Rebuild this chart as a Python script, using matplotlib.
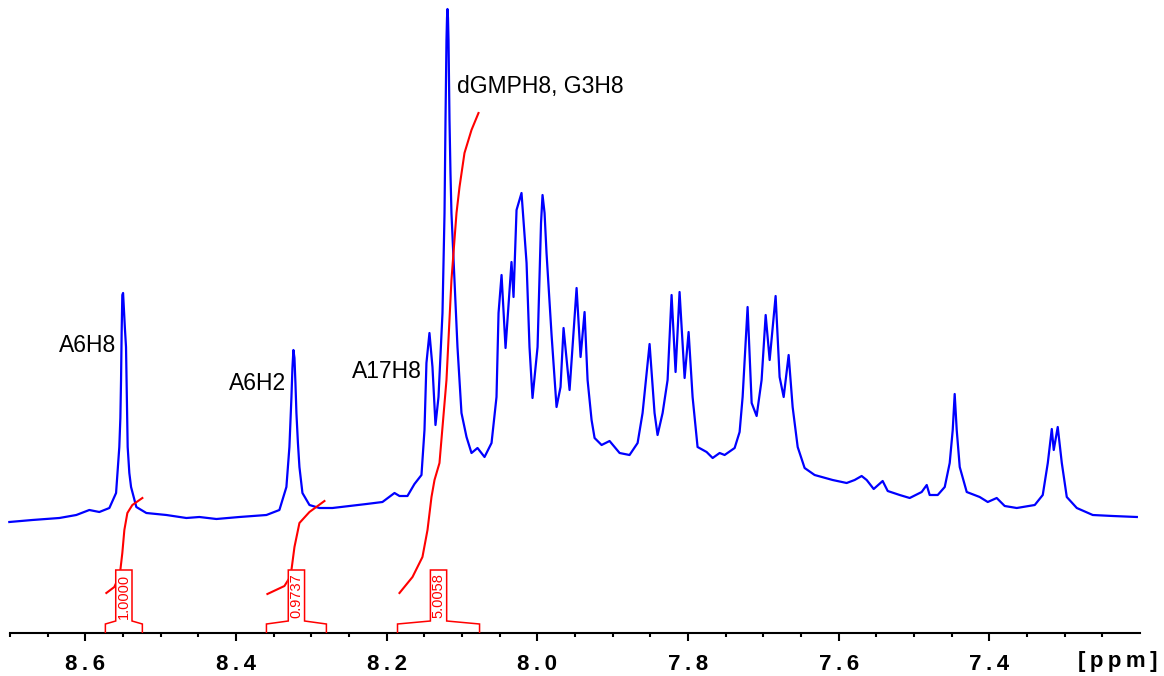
import matplotlib
matplotlib.use('Agg')
from matplotlib import pyplot as plt
from matplotlib.ticker import FixedLocator, FuncFormatter

plt.rcParams['font.family'] = ['Liberation Sans', 'DejaVu Sans']

# 1H NMR spectrum (aromatic region)
ppm = [8.7009, 8.6704, 8.6345, 8.6120, 8.5947, 8.5814, 8.5681, 8.5592, 8.5568, 8.5549,
       8.5535, 8.5526, 8.5518, 8.5509, 8.5499, 8.5489, 8.5475, 8.5460, 8.5449, 8.5438,
       8.5416, 8.5393, 8.5323, 8.5190, 8.4924, 8.4659, 8.4486, 8.4260, 8.3955, 8.3596,
       8.3424, 8.3331, 8.3291, 8.3264, 8.3251, 8.3238, 8.3224, 8.3211, 8.3198, 8.3178,
       8.3158, 8.3118, 8.3025, 8.2893, 8.2720, 8.2494, 8.2268, 8.2056, 8.1896, 8.1830,
       8.1724, 8.1631, 8.1538, 8.1498, 8.1472, 8.1432, 8.1392, 8.1352, 8.1312, 8.1259,
       8.1232, 8.1219, 8.1206, 8.1199, 8.1193, 8.1186, 8.1179, 8.1166, 8.1153, 8.1140,
       8.1100, 8.1060, 8.1007, 8.0940, 8.0874, 8.0794, 8.0701, 8.0608, 8.0542, 8.0515,
       8.0475, 8.0422, 8.0343, 8.0316, 8.0276, 8.0210, 8.0143, 8.0104, 8.0064, 7.9997,
       7.9951, 7.9931, 7.9904, 7.9878, 7.9811, 7.9745, 7.9692, 7.9652, 7.9572, 7.9479,
       7.9426, 7.9373, 7.9333, 7.9280, 7.9240, 7.9147, 7.9041, 7.8908, 7.8776, 7.8669,
       7.8603, 7.8510, 7.8444, 7.8404, 7.8337, 7.8271, 7.8218, 7.8165, 7.8112, 7.8045,
       7.7992, 7.7939, 7.7873, 7.7753, 7.7673, 7.7580, 7.7514, 7.7381, 7.7315, 7.7275,
       7.7209, 7.7155, 7.7089, 7.7023, 7.6969, 7.6916, 7.6837, 7.6784, 7.6730, 7.6664,
       7.6611, 7.6544, 7.6452, 7.6319, 7.6080, 7.5894, 7.5788, 7.5695, 7.5628, 7.5535,
       7.5416, 7.5349, 7.5190, 7.5057, 7.4898, 7.4831, 7.4792, 7.4685, 7.4592, 7.4526,
       7.4486, 7.4460, 7.4433, 7.4393, 7.4300, 7.4128, 7.4021, 7.3902, 7.3796, 7.3636,
       7.3397, 7.3291, 7.3224, 7.3171, 7.3145, 7.3092, 7.3038, 7.2972, 7.2839, 7.2627,
       7.2361, 7.2042]
intensity = [111, 113, 115, 118, 123, 121, 125, 140, 165, 186,
             215, 253, 300, 338, 340, 325, 305, 286, 236, 186,
             160, 146, 126, 120, 118, 115, 116, 114, 116, 118,
             123, 146, 186, 236, 265, 283, 275, 250, 220, 190,
             166, 140, 128, 125, 125, 127, 129, 131, 140, 137,
             137, 149, 158, 203, 270, 300, 266, 208, 236, 320,
             420, 513, 593, 615, 624, 615, 593, 513, 460, 420,
             353, 286, 220, 196, 180, 185, 176, 190, 236, 320,
             358, 285, 371, 336, 423, 440, 370, 286, 235, 286,
             410, 438, 420, 380, 298, 226, 246, 305, 243, 345,
             276, 321, 253, 213, 195, 188, 192, 180, 178, 190,
             220, 289, 220, 198, 220, 253, 338, 261, 341, 255,
             301, 236, 186, 181, 175, 180, 178, 185, 201, 236,
             326, 230, 217, 253, 318, 273, 337, 256, 236, 278,
             226, 186, 165, 158, 153, 150, 153, 157, 153, 144,
             152, 142, 138, 135, 141, 148, 138, 138, 146, 170,
             203, 239, 203, 166, 141, 136, 131, 135, 127, 125,
             128, 138, 170, 204, 183, 206, 170, 136, 125, 118,
             117, 116]

# integral curves
int1_ppm = [8.5721, 8.5615, 8.5562, 8.5535, 8.5509, 8.5482, 8.5442, 8.5376, 8.5243]
int1_val = [40, 46, 55, 63, 80, 103, 120, 128, 135]
int2_ppm = [8.3583, 8.3357, 8.3291, 8.3264, 8.3224, 8.3158, 8.3025, 8.2826]
int2_val = [39, 47, 55, 63, 86, 110, 121, 132]
int3_ppm = [8.1830, 8.1657, 8.1525, 8.1458, 8.1405, 8.1365, 8.1299, 8.1206, 8.1140,
            8.1073, 8.1033, 8.0967, 8.0874, 8.0781]
int3_val = [40, 56, 76, 103, 136, 153, 170, 253, 353, 420, 446, 480, 503, 520]

int_regions = [(8.5734, 8.5243), (8.3596, 8.2800), (8.1856, 8.0767)]
int_values = ['1.0000', '0.9737', '5.0058']

peak_labels = ['A6H8', 'A6H2', 'A17H8', 'dGMPH8, G3H8']
label_ppm = [8.5588, 8.3331, 8.1538, 8.1073]
label_y = [288, 249, 261, 547]

major_ticks = [8.6, 8.4, 8.2, 8.0, 7.8, 7.6, 7.4]
minor_ticks = [round(8.70 - 0.05 * i, 2) for i in range(30)]

thin = '\u2009'

fig = plt.figure(figsize=(11.64, 6.76), dpi=100)
ax = fig.add_axes([10 / 1164, 43 / 676, 1130 / 1164, 633 / 676])
ax.set_xlim(8.70, 7.20)
ax.set_ylim(0, 633)

ax.plot(ppm, intensity, color='#0000ff', lw=1.6, clip_on=False, zorder=2)
for xs, ys in [(int1_ppm, int1_val), (int2_ppm, int2_val), (int3_ppm, int3_val)]:
    ax.plot(xs, ys, color='#ff0000', lw=1.5, zorder=3)

# integral label brackets
half = 0.0108
for (a, b), val in zip(int_regions, int_values):
    c = (a + b) / 2
    bx = [a, a, c + half, c + half, c - half, c - half, b, b]
    by = [0, 9, 12, 63, 63, 12, 9, 0]
    ax.fill([c + half, c + half, c - half, c - half], [12, 63, 63, 12], color='white', zorder=4)
    ax.plot(bx, by, color='#ff0000', lw=1.1, zorder=5, solid_joinstyle='miter')
    ax.text(c, 37, val, rotation=90, ha='center', va='center', color='#ff0000',
            fontsize=10.5, zorder=6)

for txt, x, y in zip(peak_labels, label_ppm, label_y):
    ax.text(x, y, txt, ha='left' if x < 8.12 else 'right', va='center',
            fontsize=16.5, color='black')

for s in ['left', 'right', 'top']:
    ax.spines[s].set_visible(False)
ax.spines['bottom'].set_linewidth(1.5)
ax.set_yticks([])
ax.xaxis.set_major_locator(FixedLocator(major_ticks))
ax.xaxis.set_minor_locator(FixedLocator(minor_ticks))
ax.xaxis.set_major_formatter(FuncFormatter(lambda v, p: thin.join('%.1f' % v)))
ax.tick_params(axis='x', which='major', length=6, width=1.5, pad=9, labelsize=16)
ax.tick_params(axis='x', which='minor', length=3, width=1.5)
for lab in ax.get_xticklabels():
    lab.set_fontweight('bold')

fig.text(1118 / 1164, 1 - 661 / 676, thin.join('[ppm]'), ha='center', va='center',
         fontsize=16, fontweight='bold')

fig.savefig('out.png', dpi=100)
